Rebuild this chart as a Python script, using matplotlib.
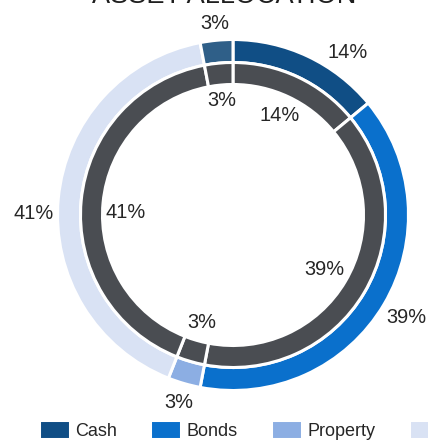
import matplotlib
matplotlib.use('Agg')
import matplotlib.pyplot as plt
import numpy as np

# Daten
categories = ['Cash', 'Bonds', 'Property', 'Equities', 'Other']
shares = [14, 39, 3, 41, 3]
colors = ['#104e85', '#0a70cc', '#8caee3', '#d9e2f4', '#2f5f88']
ring_grey = '#4a4d52'
title = 'ASSET ALLOCATION'

# kleine Verschiebungen der Beschriftungen (Grad), wie im Original
outer_nudge = {'Cash': 10, 'Equities': -5}
inner_nudge = {'Equities': -4}

plt.rcParams['font.family'] = ['Liberation Sans', 'DejaVu Sans']

PX = 174.0  # Pixel pro Dateneinheit (äußerer Radius)
TEXT = '#262626'


# Diese Funktion setzt die Prozent-Beschriftungen um einen Ring herum:
def ring_labels(ax, anchor_px, outward, nudge) -> None:
    total = sum(shares)
    start = 0.0
    for cat, val in zip(categories, shares):
        mid = (start + val / 2) / total * 360 + nudge.get(cat, 0)
        start += val
        th = np.radians(mid)
        # Ankerpunkt plus halbe Textbreite/-höhe nach außen bzw. innen
        r = anchor_px + outward * (16 * abs(np.sin(th)) + 8 * abs(np.cos(th)))
        ax.text(r / PX * np.sin(th), r / PX * np.cos(th), f'{val / total * 100:.0f}%',
                ha='center', va='center', fontsize=14.4, color=TEXT)


def main() -> None:
    fig = plt.figure(figsize=(4.28, 4.41), dpi=100)
    ax = fig.add_axes([0, 0, 1, 1])

    # äußerer Ring, farbig
    outer, _ = ax.pie(
        shares, colors=colors, startangle=90, counterclock=False,
        radius=175.5 / PX,
        wedgeprops=dict(width=23 / PX, edgecolor='white', linewidth=2.2))

    # innerer Ring, grau
    ax.pie(
        shares, colors=[ring_grey] * len(shares), startangle=90, counterclock=False,
        radius=152.5 / PX,
        wedgeprops=dict(width=22 / PX, edgecolor='white', linewidth=2.2))

    ring_labels(ax, 183, 1, outer_nudge)
    ring_labels(ax, 124, -1, inner_nudge)

    # Mittelpunkt bei (233, 215) Pixel von oben links
    ax.set_xlim(-233 / PX, (428 - 233) / PX)
    ax.set_ylim(-(441 - 215) / PX, 215 / PX)
    ax.set_aspect('auto')
    ax.axis('off')

    fig.text(224 / 428, (441 - 3) / 441, title, ha='center', va='baseline',
             fontsize=19.5, color='#1f1f1f')

    fig.legend(outer, categories, loc='upper left', ncol=len(categories),
               bbox_to_anchor=(39 / 428, (441 - 420) / 441), frameon=False,
               fontsize=13, handlelength=1.7, handleheight=1.25,
               handletextpad=0.3, columnspacing=1.85, borderpad=0,
               borderaxespad=0, labelcolor=TEXT)

    fig.savefig('out.png', dpi=100)


if __name__ == '__main__':
    main()
